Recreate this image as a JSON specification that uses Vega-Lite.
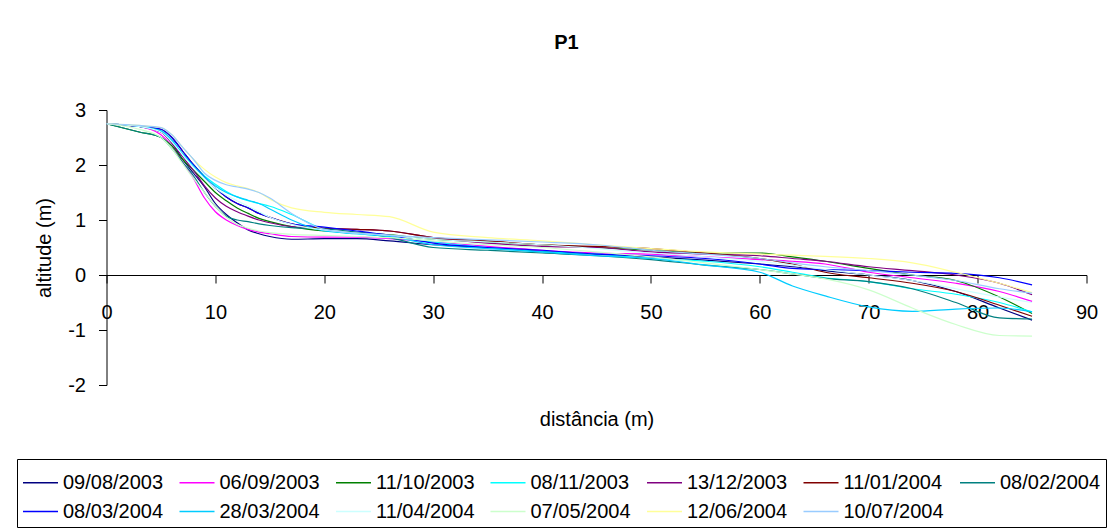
{
"$schema":"https://vega.github.io/schema/vega-lite/v6.json",
"width":980,"height":275,
"autosize":{"type":"none"},
"padding":{"left":106.5,"top":110,"right":28.5,"bottom":146},
"background":"white",
"title":{"text":"P1","fontSize":20,"fontWeight":"bold","font":"Liberation Sans","color":"black","anchor":"middle","frame":"group","dx":-30,"offset":31,"baseline":"alphabetic"},
"config":{"view":{"stroke":null},"font":"Liberation Sans"},
"data":{"values":[
{"s":"09/08/2003","x":0,"y":2.75},{"s":"09/08/2003","x":3,"y":2.7},{"s":"09/08/2003","x":5,"y":2.6},{"s":"09/08/2003","x":6,"y":2.4},{"s":"09/08/2003","x":7,"y":2.1},{"s":"09/08/2003","x":8,"y":1.85},{"s":"09/08/2003","x":9,"y":1.6},{"s":"09/08/2003","x":10,"y":1.3},{"s":"09/08/2003","x":11,"y":1.1},{"s":"09/08/2003","x":12,"y":0.95},{"s":"09/08/2003","x":13,"y":0.82},{"s":"09/08/2003","x":14,"y":0.75},{"s":"09/08/2003","x":15,"y":0.7},{"s":"09/08/2003","x":17,"y":0.65},{"s":"09/08/2003","x":20,"y":0.66},{"s":"09/08/2003","x":23,"y":0.66},{"s":"09/08/2003","x":26,"y":0.62},{"s":"09/08/2003","x":30,"y":0.55},{"s":"09/08/2003","x":35,"y":0.5},{"s":"09/08/2003","x":40,"y":0.43},{"s":"09/08/2003","x":45,"y":0.38},{"s":"09/08/2003","x":50,"y":0.33},{"s":"09/08/2003","x":55,"y":0.27},{"s":"09/08/2003","x":60,"y":0.2},{"s":"09/08/2003","x":63,"y":0.15},{"s":"09/08/2003","x":66,"y":0.08},{"s":"09/08/2003","x":70,"y":0.0},{"s":"09/08/2003","x":74,"y":-0.1},{"s":"09/08/2003","x":78,"y":-0.3},{"s":"09/08/2003","x":82,"y":-0.6},{"s":"09/08/2003","x":85,"y":-0.82},
{"s":"06/09/2003","x":0,"y":2.75},{"s":"06/09/2003","x":3,"y":2.7},{"s":"06/09/2003","x":5,"y":2.55},{"s":"06/09/2003","x":6,"y":2.35},{"s":"06/09/2003","x":7,"y":2.05},{"s":"06/09/2003","x":8,"y":1.75},{"s":"06/09/2003","x":9,"y":1.4},{"s":"06/09/2003","x":10,"y":1.15},{"s":"06/09/2003","x":11,"y":1.0},{"s":"06/09/2003","x":12,"y":0.9},{"s":"06/09/2003","x":13,"y":0.83},{"s":"06/09/2003","x":14,"y":0.78},{"s":"06/09/2003","x":15,"y":0.75},{"s":"06/09/2003","x":17,"y":0.7},{"s":"06/09/2003","x":20,"y":0.69},{"s":"06/09/2003","x":23,"y":0.69},{"s":"06/09/2003","x":26,"y":0.66},{"s":"06/09/2003","x":30,"y":0.6},{"s":"06/09/2003","x":35,"y":0.52},{"s":"06/09/2003","x":40,"y":0.45},{"s":"06/09/2003","x":45,"y":0.4},{"s":"06/09/2003","x":50,"y":0.38},{"s":"06/09/2003","x":55,"y":0.33},{"s":"06/09/2003","x":60,"y":0.28},{"s":"06/09/2003","x":63,"y":0.25},{"s":"06/09/2003","x":66,"y":0.2},{"s":"06/09/2003","x":70,"y":0.05},{"s":"06/09/2003","x":74,"y":-0.05},{"s":"06/09/2003","x":78,"y":-0.15},{"s":"06/09/2003","x":82,"y":-0.3},{"s":"06/09/2003","x":85,"y":-0.48},
{"s":"11/10/2003","x":0,"y":2.75},{"s":"11/10/2003","x":3,"y":2.6},{"s":"11/10/2003","x":5,"y":2.5},{"s":"11/10/2003","x":6,"y":2.35},{"s":"11/10/2003","x":7,"y":2.1},{"s":"11/10/2003","x":8,"y":1.9},{"s":"11/10/2003","x":9,"y":1.7},{"s":"11/10/2003","x":10,"y":1.5},{"s":"11/10/2003","x":11,"y":1.35},{"s":"11/10/2003","x":12,"y":1.22},{"s":"11/10/2003","x":13,"y":1.12},{"s":"11/10/2003","x":14,"y":1.03},{"s":"11/10/2003","x":15,"y":0.97},{"s":"11/10/2003","x":17,"y":0.88},{"s":"11/10/2003","x":20,"y":0.8},{"s":"11/10/2003","x":23,"y":0.77},{"s":"11/10/2003","x":26,"y":0.73},{"s":"11/10/2003","x":30,"y":0.65},{"s":"11/10/2003","x":35,"y":0.6},{"s":"11/10/2003","x":40,"y":0.55},{"s":"11/10/2003","x":45,"y":0.5},{"s":"11/10/2003","x":50,"y":0.45},{"s":"11/10/2003","x":55,"y":0.4},{"s":"11/10/2003","x":60,"y":0.4},{"s":"11/10/2003","x":63,"y":0.33},{"s":"11/10/2003","x":66,"y":0.25},{"s":"11/10/2003","x":70,"y":0.12},{"s":"11/10/2003","x":74,"y":0.0},{"s":"11/10/2003","x":78,"y":-0.1},{"s":"11/10/2003","x":82,"y":-0.4},{"s":"11/10/2003","x":85,"y":-0.7},
{"s":"08/11/2003","x":0,"y":2.75},{"s":"08/11/2003","x":3,"y":2.7},{"s":"08/11/2003","x":5,"y":2.62},{"s":"08/11/2003","x":6,"y":2.45},{"s":"08/11/2003","x":7,"y":2.2},{"s":"08/11/2003","x":8,"y":2.0},{"s":"08/11/2003","x":9,"y":1.8},{"s":"08/11/2003","x":10,"y":1.65},{"s":"08/11/2003","x":11,"y":1.52},{"s":"08/11/2003","x":12,"y":1.42},{"s":"08/11/2003","x":13,"y":1.35},{"s":"08/11/2003","x":14,"y":1.3},{"s":"08/11/2003","x":15,"y":1.25},{"s":"08/11/2003","x":17,"y":1.1},{"s":"08/11/2003","x":20,"y":0.83},{"s":"08/11/2003","x":23,"y":0.75},{"s":"08/11/2003","x":26,"y":0.7},{"s":"08/11/2003","x":30,"y":0.6},{"s":"08/11/2003","x":35,"y":0.5},{"s":"08/11/2003","x":40,"y":0.42},{"s":"08/11/2003","x":45,"y":0.38},{"s":"08/11/2003","x":50,"y":0.3},{"s":"08/11/2003","x":55,"y":0.25},{"s":"08/11/2003","x":60,"y":0.15},{"s":"08/11/2003","x":63,"y":0.05},{"s":"08/11/2003","x":66,"y":-0.05},{"s":"08/11/2003","x":70,"y":-0.12},{"s":"08/11/2003","x":74,"y":-0.25},{"s":"08/11/2003","x":78,"y":-0.35},{"s":"08/11/2003","x":82,"y":-0.5},{"s":"08/11/2003","x":85,"y":-0.67},
{"s":"13/12/2003","x":0,"y":2.75},{"s":"13/12/2003","x":3,"y":2.7},{"s":"13/12/2003","x":5,"y":2.6},{"s":"13/12/2003","x":6,"y":2.4},{"s":"13/12/2003","x":7,"y":2.15},{"s":"13/12/2003","x":8,"y":1.9},{"s":"13/12/2003","x":9,"y":1.62},{"s":"13/12/2003","x":10,"y":1.4},{"s":"13/12/2003","x":11,"y":1.25},{"s":"13/12/2003","x":12,"y":1.15},{"s":"13/12/2003","x":13,"y":1.07},{"s":"13/12/2003","x":14,"y":1.0},{"s":"13/12/2003","x":15,"y":0.95},{"s":"13/12/2003","x":17,"y":0.88},{"s":"13/12/2003","x":20,"y":0.85},{"s":"13/12/2003","x":23,"y":0.83},{"s":"13/12/2003","x":26,"y":0.8},{"s":"13/12/2003","x":30,"y":0.68},{"s":"13/12/2003","x":35,"y":0.58},{"s":"13/12/2003","x":40,"y":0.52},{"s":"13/12/2003","x":45,"y":0.5},{"s":"13/12/2003","x":50,"y":0.42},{"s":"13/12/2003","x":55,"y":0.38},{"s":"13/12/2003","x":60,"y":0.35},{"s":"13/12/2003","x":63,"y":0.3},{"s":"13/12/2003","x":66,"y":0.25},{"s":"13/12/2003","x":70,"y":0.15},{"s":"13/12/2003","x":74,"y":0.08},{"s":"13/12/2003","x":78,"y":0.0},{"s":"13/12/2003","x":82,"y":-0.15},{"s":"13/12/2003","x":85,"y":-0.36},
{"s":"11/01/2004","x":0,"y":2.75},{"s":"11/01/2004","x":3,"y":2.7},{"s":"11/01/2004","x":5,"y":2.65},{"s":"11/01/2004","x":6,"y":2.5},{"s":"11/01/2004","x":7,"y":2.25},{"s":"11/01/2004","x":8,"y":2.0},{"s":"11/01/2004","x":9,"y":1.78},{"s":"11/01/2004","x":10,"y":1.58},{"s":"11/01/2004","x":11,"y":1.42},{"s":"11/01/2004","x":12,"y":1.3},{"s":"11/01/2004","x":13,"y":1.22},{"s":"11/01/2004","x":14,"y":1.12},{"s":"11/01/2004","x":15,"y":1.05},{"s":"11/01/2004","x":17,"y":0.93},{"s":"11/01/2004","x":20,"y":0.85},{"s":"11/01/2004","x":23,"y":0.83},{"s":"11/01/2004","x":26,"y":0.8},{"s":"11/01/2004","x":30,"y":0.68},{"s":"11/01/2004","x":35,"y":0.62},{"s":"11/01/2004","x":40,"y":0.55},{"s":"11/01/2004","x":45,"y":0.52},{"s":"11/01/2004","x":50,"y":0.48},{"s":"11/01/2004","x":55,"y":0.4},{"s":"11/01/2004","x":60,"y":0.3},{"s":"11/01/2004","x":63,"y":0.2},{"s":"11/01/2004","x":66,"y":0.05},{"s":"11/01/2004","x":70,"y":-0.05},{"s":"11/01/2004","x":74,"y":-0.15},{"s":"11/01/2004","x":78,"y":-0.3},{"s":"11/01/2004","x":82,"y":-0.55},{"s":"11/01/2004","x":85,"y":-0.75},
{"s":"08/02/2004","x":0,"y":2.75},{"s":"08/02/2004","x":3,"y":2.6},{"s":"08/02/2004","x":5,"y":2.5},{"s":"08/02/2004","x":6,"y":2.3},{"s":"08/02/2004","x":7,"y":2.05},{"s":"08/02/2004","x":8,"y":1.8},{"s":"08/02/2004","x":9,"y":1.5},{"s":"08/02/2004","x":10,"y":1.25},{"s":"08/02/2004","x":11,"y":1.07},{"s":"08/02/2004","x":12,"y":1.0},{"s":"08/02/2004","x":13,"y":0.97},{"s":"08/02/2004","x":14,"y":0.93},{"s":"08/02/2004","x":15,"y":0.9},{"s":"08/02/2004","x":17,"y":0.86},{"s":"08/02/2004","x":20,"y":0.84},{"s":"08/02/2004","x":23,"y":0.78},{"s":"08/02/2004","x":26,"y":0.68},{"s":"08/02/2004","x":30,"y":0.5},{"s":"08/02/2004","x":35,"y":0.45},{"s":"08/02/2004","x":40,"y":0.4},{"s":"08/02/2004","x":45,"y":0.35},{"s":"08/02/2004","x":50,"y":0.28},{"s":"08/02/2004","x":55,"y":0.18},{"s":"08/02/2004","x":60,"y":0.1},{"s":"08/02/2004","x":63,"y":0.02},{"s":"08/02/2004","x":66,"y":-0.06},{"s":"08/02/2004","x":70,"y":-0.12},{"s":"08/02/2004","x":74,"y":-0.25},{"s":"08/02/2004","x":78,"y":-0.5},{"s":"08/02/2004","x":82,"y":-0.78},{"s":"08/02/2004","x":85,"y":-0.8},
{"s":"08/03/2004","x":0,"y":2.75},{"s":"08/03/2004","x":3,"y":2.7},{"s":"08/03/2004","x":5,"y":2.65},{"s":"08/03/2004","x":6,"y":2.5},{"s":"08/03/2004","x":7,"y":2.25},{"s":"08/03/2004","x":8,"y":2.0},{"s":"08/03/2004","x":9,"y":1.78},{"s":"08/03/2004","x":10,"y":1.58},{"s":"08/03/2004","x":11,"y":1.42},{"s":"08/03/2004","x":12,"y":1.3},{"s":"08/03/2004","x":13,"y":1.22},{"s":"08/03/2004","x":14,"y":1.12},{"s":"08/03/2004","x":15,"y":1.05},{"s":"08/03/2004","x":17,"y":0.93},{"s":"08/03/2004","x":20,"y":0.87},{"s":"08/03/2004","x":23,"y":0.8},{"s":"08/03/2004","x":26,"y":0.72},{"s":"08/03/2004","x":30,"y":0.58},{"s":"08/03/2004","x":35,"y":0.5},{"s":"08/03/2004","x":40,"y":0.45},{"s":"08/03/2004","x":45,"y":0.38},{"s":"08/03/2004","x":50,"y":0.35},{"s":"08/03/2004","x":55,"y":0.3},{"s":"08/03/2004","x":60,"y":0.2},{"s":"08/03/2004","x":63,"y":0.12},{"s":"08/03/2004","x":66,"y":0.1},{"s":"08/03/2004","x":70,"y":0.08},{"s":"08/03/2004","x":74,"y":0.05},{"s":"08/03/2004","x":78,"y":0.03},{"s":"08/03/2004","x":82,"y":-0.05},{"s":"08/03/2004","x":85,"y":-0.18},
{"s":"28/03/2004","x":0,"y":2.75},{"s":"28/03/2004","x":3,"y":2.7},{"s":"28/03/2004","x":5,"y":2.62},{"s":"28/03/2004","x":6,"y":2.45},{"s":"28/03/2004","x":7,"y":2.2},{"s":"28/03/2004","x":8,"y":1.98},{"s":"28/03/2004","x":9,"y":1.78},{"s":"28/03/2004","x":10,"y":1.62},{"s":"28/03/2004","x":11,"y":1.5},{"s":"28/03/2004","x":12,"y":1.42},{"s":"28/03/2004","x":13,"y":1.36},{"s":"28/03/2004","x":14,"y":1.3},{"s":"28/03/2004","x":15,"y":1.2},{"s":"28/03/2004","x":17,"y":1.0},{"s":"28/03/2004","x":20,"y":0.8},{"s":"28/03/2004","x":23,"y":0.75},{"s":"28/03/2004","x":26,"y":0.7},{"s":"28/03/2004","x":30,"y":0.55},{"s":"28/03/2004","x":35,"y":0.48},{"s":"28/03/2004","x":40,"y":0.42},{"s":"28/03/2004","x":45,"y":0.35},{"s":"28/03/2004","x":50,"y":0.3},{"s":"28/03/2004","x":55,"y":0.18},{"s":"28/03/2004","x":60,"y":0.05},{"s":"28/03/2004","x":63,"y":-0.2},{"s":"28/03/2004","x":66,"y":-0.38},{"s":"28/03/2004","x":70,"y":-0.58},{"s":"28/03/2004","x":74,"y":-0.66},{"s":"28/03/2004","x":78,"y":-0.62},{"s":"28/03/2004","x":82,"y":-0.6},{"s":"28/03/2004","x":85,"y":-0.67},
{"s":"11/04/2004","x":0,"y":2.75},{"s":"11/04/2004","x":3,"y":2.7},{"s":"11/04/2004","x":5,"y":2.6},{"s":"11/04/2004","x":6,"y":2.42},{"s":"11/04/2004","x":7,"y":2.18},{"s":"11/04/2004","x":8,"y":1.95},{"s":"11/04/2004","x":9,"y":1.75},{"s":"11/04/2004","x":10,"y":1.58},{"s":"11/04/2004","x":11,"y":1.45},{"s":"11/04/2004","x":12,"y":1.35},{"s":"11/04/2004","x":13,"y":1.25},{"s":"11/04/2004","x":14,"y":1.15},{"s":"11/04/2004","x":15,"y":1.05},{"s":"11/04/2004","x":17,"y":0.92},{"s":"11/04/2004","x":20,"y":0.82},{"s":"11/04/2004","x":23,"y":0.76},{"s":"11/04/2004","x":26,"y":0.72},{"s":"11/04/2004","x":30,"y":0.65},{"s":"11/04/2004","x":35,"y":0.6},{"s":"11/04/2004","x":40,"y":0.55},{"s":"11/04/2004","x":45,"y":0.48},{"s":"11/04/2004","x":50,"y":0.4},{"s":"11/04/2004","x":55,"y":0.33},{"s":"11/04/2004","x":60,"y":0.25},{"s":"11/04/2004","x":63,"y":0.18},{"s":"11/04/2004","x":66,"y":0.1},{"s":"11/04/2004","x":70,"y":0.0},{"s":"11/04/2004","x":74,"y":-0.1},{"s":"11/04/2004","x":78,"y":-0.25},{"s":"11/04/2004","x":82,"y":-0.4},{"s":"11/04/2004","x":85,"y":-0.5},
{"s":"07/05/2004","x":0,"y":2.75},{"s":"07/05/2004","x":3,"y":2.65},{"s":"07/05/2004","x":5,"y":2.5},{"s":"07/05/2004","x":6,"y":2.3},{"s":"07/05/2004","x":7,"y":2.02},{"s":"07/05/2004","x":8,"y":1.75},{"s":"07/05/2004","x":9,"y":1.5},{"s":"07/05/2004","x":10,"y":1.25},{"s":"07/05/2004","x":11,"y":1.05},{"s":"07/05/2004","x":12,"y":0.92},{"s":"07/05/2004","x":13,"y":0.85},{"s":"07/05/2004","x":14,"y":0.8},{"s":"07/05/2004","x":15,"y":0.77},{"s":"07/05/2004","x":17,"y":0.74},{"s":"07/05/2004","x":20,"y":0.72},{"s":"07/05/2004","x":23,"y":0.7},{"s":"07/05/2004","x":26,"y":0.68},{"s":"07/05/2004","x":30,"y":0.62},{"s":"07/05/2004","x":35,"y":0.55},{"s":"07/05/2004","x":40,"y":0.5},{"s":"07/05/2004","x":45,"y":0.42},{"s":"07/05/2004","x":50,"y":0.33},{"s":"07/05/2004","x":55,"y":0.22},{"s":"07/05/2004","x":60,"y":0.1},{"s":"07/05/2004","x":63,"y":0.02},{"s":"07/05/2004","x":66,"y":-0.07},{"s":"07/05/2004","x":70,"y":-0.27},{"s":"07/05/2004","x":74,"y":-0.6},{"s":"07/05/2004","x":78,"y":-0.9},{"s":"07/05/2004","x":82,"y":-1.1},{"s":"07/05/2004","x":85,"y":-1.11},
{"s":"12/06/2004","x":0,"y":2.75},{"s":"12/06/2004","x":3,"y":2.72},{"s":"12/06/2004","x":5,"y":2.68},{"s":"12/06/2004","x":6,"y":2.55},{"s":"12/06/2004","x":7,"y":2.32},{"s":"12/06/2004","x":8,"y":2.1},{"s":"12/06/2004","x":9,"y":1.92},{"s":"12/06/2004","x":10,"y":1.78},{"s":"12/06/2004","x":11,"y":1.68},{"s":"12/06/2004","x":12,"y":1.62},{"s":"12/06/2004","x":13,"y":1.57},{"s":"12/06/2004","x":14,"y":1.5},{"s":"12/06/2004","x":15,"y":1.38},{"s":"12/06/2004","x":17,"y":1.22},{"s":"12/06/2004","x":20,"y":1.14},{"s":"12/06/2004","x":23,"y":1.1},{"s":"12/06/2004","x":26,"y":1.06},{"s":"12/06/2004","x":30,"y":0.78},{"s":"12/06/2004","x":35,"y":0.68},{"s":"12/06/2004","x":40,"y":0.62},{"s":"12/06/2004","x":45,"y":0.55},{"s":"12/06/2004","x":50,"y":0.48},{"s":"12/06/2004","x":55,"y":0.42},{"s":"12/06/2004","x":60,"y":0.38},{"s":"12/06/2004","x":63,"y":0.36},{"s":"12/06/2004","x":66,"y":0.34},{"s":"12/06/2004","x":70,"y":0.3},{"s":"12/06/2004","x":74,"y":0.22},{"s":"12/06/2004","x":78,"y":0.05},{"s":"12/06/2004","x":82,"y":-0.15},{"s":"12/06/2004","x":85,"y":-0.32},
{"s":"10/07/2004","x":0,"y":2.75},{"s":"10/07/2004","x":3,"y":2.72},{"s":"10/07/2004","x":5,"y":2.68},{"s":"10/07/2004","x":6,"y":2.55},{"s":"10/07/2004","x":7,"y":2.32},{"s":"10/07/2004","x":8,"y":2.1},{"s":"10/07/2004","x":9,"y":1.85},{"s":"10/07/2004","x":10,"y":1.72},{"s":"10/07/2004","x":11,"y":1.64},{"s":"10/07/2004","x":12,"y":1.6},{"s":"10/07/2004","x":13,"y":1.56},{"s":"10/07/2004","x":14,"y":1.5},{"s":"10/07/2004","x":15,"y":1.4},{"s":"10/07/2004","x":17,"y":1.12},{"s":"10/07/2004","x":20,"y":0.83},{"s":"10/07/2004","x":23,"y":0.76},{"s":"10/07/2004","x":26,"y":0.72},{"s":"10/07/2004","x":30,"y":0.68},{"s":"10/07/2004","x":35,"y":0.64},{"s":"10/07/2004","x":40,"y":0.6},{"s":"10/07/2004","x":45,"y":0.55},{"s":"10/07/2004","x":50,"y":0.45},{"s":"10/07/2004","x":55,"y":0.38},{"s":"10/07/2004","x":60,"y":0.3},{"s":"10/07/2004","x":63,"y":0.22},{"s":"10/07/2004","x":66,"y":0.15},{"s":"10/07/2004","x":70,"y":0.08},{"s":"10/07/2004","x":74,"y":0.0},{"s":"10/07/2004","x":78,"y":-0.1},{"s":"10/07/2004","x":82,"y":-0.25},{"s":"10/07/2004","x":85,"y":-0.33}
]},
"mark":{"type":"line","strokeWidth":1.2,"interpolate":"monotone","clip":true},
"encoding":{
"x":{"field":"x","type":"quantitative","scale":{"domain":[0,90],"nice":false,"zero":false},
 "axis":{"values":[0,10,20,30,40,50,60,70,80,90],"offset":-110,"grid":false,"domainColor":"black","tickColor":"black","tickSize":8,"labelFontSize":20,"labelColor":"black","labelFont":"Liberation Sans","labelPadding":19,"labelFlush":false,"labelOverlap":false,"labelExpr":"datum.value + ''","title":"distância (m)","titleFontSize":20,"titleFontWeight":"normal","titleColor":"black","titleFont":"Liberation Sans","titleY":150,"titleBaseline":"alphabetic"}},
"y":{"field":"y","type":"quantitative","scale":{"domain":[-2,3],"nice":false,"zero":false},
 "axis":{"values":[-2,-1,0,1,2,3],"grid":false,"domainColor":"black","tickColor":"black","tickSize":8,"labelFontSize":20,"labelColor":"black","labelFont":"Liberation Sans","labelPadding":13,"labelFlush":false,"labelOverlap":false,"labelExpr":"datum.value + ''","title":"altitude (m)","titleFontSize":20,"titleFontWeight":"normal","titleColor":"black","titleFont":"Liberation Sans","titlePadding":13}},
"color":{"field":"s","type":"nominal",
 "scale":{"domain":["09/08/2003","06/09/2003","11/10/2003","08/11/2003","13/12/2003","11/01/2004","08/02/2004","08/03/2004","28/03/2004","11/04/2004","07/05/2004","12/06/2004","10/07/2004"],
  "range":["#000080","#FF00FF","#008000","#00FFFF","#800080","#800000","#008080","#0000FF","#00CCFF","#CCFFFF","#CCFFCC","#FFFF99","#99CCFF"]},
 "legend":{"title":null,"orient":"none","legendX":-89.5,"legendY":349,"direction":"horizontal","columns":7,"symbolType":"stroke","symbolSize":1225,"symbolStrokeWidth":1.5,"labelFontSize":20,"labelFont":"Liberation Sans","labelColor":"black","labelOffset":4,"columnPadding":12.5,"rowPadding":-5,"padding":5,"strokeColor":"black","fillColor":"white"}}
}
}
